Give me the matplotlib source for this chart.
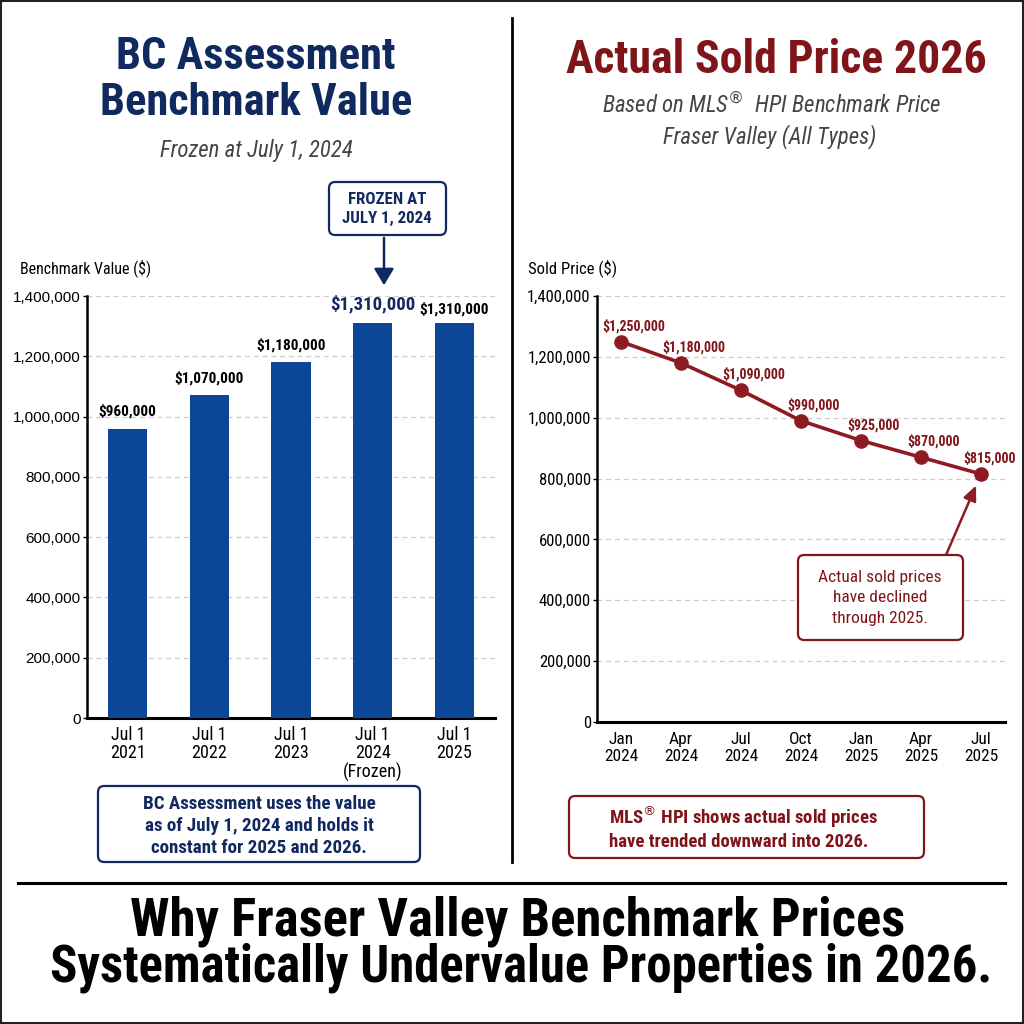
import matplotlib
matplotlib.use("Agg")
import numpy as np
import matplotlib.pyplot as plt
from matplotlib.patches import Rectangle, FancyBboxPatch, FancyArrowPatch
from matplotlib.ticker import FuncFormatter, MultipleLocator

# condensed look like the reference; falls back to plain sans if missing
plt.rcParams["font.family"] = ["Roboto Condensed", "Archivo Narrow", "Liberation Sans", "DejaVu Sans"]

NAVY = "#10295e"
BAR = "#0b4796"
RED = "#7f1519"
LINE_RED = "#8e1b22"
GRAY = "#444444"

# data
bar_dates = ["Jul 1\n2021", "Jul 1\n2022", "Jul 1\n2023", "Jul 1\n2024\n(Frozen)", "Jul 1\n2025"]
bar_values = [960000, 1070000, 1180000, 1310000, 1310000]
bar_labels = ["$960,000", "$1,070,000", "$1,180,000", "$1,310,000", "$1,310,000"]

sold_dates = ["Jan\n2024", "Apr\n2024", "Jul\n2024", "Oct\n2024", "Jan\n2025", "Apr\n2025", "Jul\n2025"]
sold_values = [1250000, 1180000, 1090000, 990000, 925000, 870000, 815000]
sold_labels = ["$1,250,000", "$1,180,000", "$1,090,000", "$990,000", "$925,000", "$870,000", "$815,000"]

W = 1024


def fx(x):
    return x / W


def fy(y):
    return 1 - y / W


def box(x0, y0, x1, y1, color):
    # rounded frame given in pixel coords (top-left origin)
    fig.add_artist(FancyBboxPatch((fx(x0), fy(y1)), (x1 - x0) / W, (y1 - y0) / W,
                                  boxstyle="round,pad=0,rounding_size=0.006",
                                  transform=fig.transFigure, fc="white", ec=color, lw=1.6))


fig = plt.figure(figsize=(10.24, 10.24), dpi=100)
fig.patch.set_facecolor("white")

# outer frame + dividers
fig.add_artist(Rectangle((0.001, 0.001), 0.998, 0.998, transform=fig.transFigure,
                         fill=False, ec="#222222", lw=1.5))
fig.add_artist(plt.Line2D([fx(512), fx(512)], [fy(18), fy(862)], color="black", lw=2))
fig.add_artist(plt.Line2D([fx(18), fx(1005)], [fy(883), fy(883)], color="black", lw=2.2))


def style_axis(ax, ysize):
    ax.set_ylim(0, 1400000)
    ax.yaxis.set_major_locator(MultipleLocator(200000))
    ax.yaxis.set_major_formatter(FuncFormatter(lambda v, p: f"{int(v):,}"))
    ax.grid(axis="y", color="#cccccc", ls=(0, (4, 3)), lw=0.9)
    ax.set_axisbelow(True)
    for s in ["top", "right"]:
        ax.spines[s].set_visible(False)
    ax.spines["left"].set_linewidth(1.8)
    ax.spines["bottom"].set_linewidth(2.2)
    ax.tick_params(axis="y", labelsize=ysize, length=3, width=1, pad=1.5)
    ax.tick_params(axis="x", length=0)


# ---- left: bar chart
ax1 = fig.add_axes([fx(87), fy(718), fx(495 - 87), (718 - 296) / W])
x1 = range(len(bar_values))
ax1.bar(x1, bar_values, width=0.48, color=BAR, zorder=3)
ax1.set_xlim(-0.5, 4.5)
ax1.set_xticks(list(x1))
ax1.set_xticklabels(bar_dates, linespacing=1.0, fontsize=13)
style_axis(ax1, 11)
# left value axis uses a plain (wider) sans like the reference
yt = np.arange(0, 1400001, 200000)
ax1.set_yticks(yt)
ax1.set_yticklabels([f"{int(v):,}" for v in yt], fontfamily="Liberation Sans", fontsize=11)
ax1.set_ylim(0, 1400000)
ax1.tick_params(axis="x", pad=6)
for i, (v, lab) in enumerate(zip(bar_values, bar_labels)):
    if i == 3:
        ax1.annotate(lab, (i, v), xytext=(0, 7), textcoords="offset points",
                     ha="center", va="bottom", fontsize=13.5, fontweight="bold", color=NAVY)
    else:
        ax1.annotate(lab, (i, v), xytext=(0, 7 if i < 4 else 5), textcoords="offset points",
                     ha="center", va="bottom", fontsize=11, fontweight="bold", color="black")

fig.text(fx(20), fy(268), "Benchmark Value ($)", fontsize=11.5, va="center", ha="left")

fig.text(fx(256), fy(57), "BC Assessment", fontsize=32, fontweight="bold", color=NAVY,
         ha="center", va="center")
fig.text(fx(256), fy(103), "Benchmark Value", fontsize=32, fontweight="bold", color=NAVY,
         ha="center", va="center")
fig.text(fx(256), fy(150), "Frozen at July 1, 2024", fontsize=16.5, style="italic", color=GRAY,
         ha="center", va="center")

# frozen callout
box(329, 182, 446, 235, NAVY)
fig.text(fx(387), fy(209), "FROZEN AT\nJULY 1, 2024", fontsize=12.2, fontweight="bold", color=NAVY,
         ha="center", va="center", linespacing=1.35)
fig.add_artist(FancyArrowPatch(
    (fx(384), fy(235)), (fx(384), fy(288)), transform=fig.transFigure,
    arrowstyle="-|>,head_length=10,head_width=6", color=NAVY, lw=1.8))

box(98, 786, 420, 862, NAVY)
fig.text(fx(259), fy(826), "BC Assessment uses the value\nas of July 1, 2024 and holds it\nconstant for 2025 and 2026.",
         fontsize=13.7, fontweight="bold", color=NAVY, ha="center", va="center", linespacing=1.32)

# ---- right: line chart
ax2 = fig.add_axes([fx(597), fy(722), fx(1005 - 597), (722 - 296) / W])
x2 = list(range(len(sold_values)))
ax2.plot(x2, sold_values, color=LINE_RED, lw=2.6, marker="o", ms=9.5, zorder=3)
ax2.set_xlim(-0.4, 6.4)
ax2.set_xticks(x2)
ax2.set_xticklabels(sold_dates, linespacing=1.2, fontsize=12.5)
style_axis(ax2, 12)
ax2.tick_params(axis="x", pad=7)
for i, (v, lab) in enumerate(zip(sold_values, sold_labels)):
    dx = 6 if i == len(sold_values) - 1 else 9
    ax2.annotate(lab, (i, v), xytext=(dx, 6), textcoords="offset points",
                 ha="center", va="bottom", fontsize=10, fontweight="bold", color=RED)

fig.text(fx(528), fy(268), "Sold Price ($)", fontsize=12, va="center", ha="left")

fig.text(fx(776), fy(60), "Actual Sold Price 2026", fontsize=33, fontweight="bold", color=RED,
         ha="center", va="center")
fig.text(fx(772), fy(105), "Based on MLS$^{®}$  HPI Benchmark Price", fontsize=16.5, style="italic",
         color=GRAY, ha="center", va="center")
fig.text(fx(770), fy(137), "Fraser Valley (All Types)", fontsize=16.5, style="italic", color=GRAY,
         ha="center", va="center")

box(798, 555, 963, 640, RED)
fig.text(fx(880), fy(598), "Actual sold prices\nhave declined\nthrough 2025.", fontsize=12.5,
         color=RED, ha="center", va="center", linespacing=1.45)
ax2.annotate("", xy=(6, sold_values[-1]), xycoords="data",
             xytext=(fx(946), fy(555)), textcoords="figure fraction", annotation_clip=False,
             arrowprops=dict(arrowstyle="-|>,head_length=0.9,head_width=0.4", color=LINE_RED, lw=1.8,
                             shrinkA=0, shrinkB=9))

box(569, 796, 924, 858, RED)
fig.text(fx(609), fy(827), "MLS$^{®}$ HPI shows actual sold prices\nhave trended downward into 2026.",
         fontsize=13.5, fontweight="bold", color=RED, ha="left", va="center", linespacing=1.22)

# ---- bottom headline
fig.text(fx(518), fy(921), "Why Fraser Valley Benchmark Prices", fontsize=38, fontweight="bold",
         color="black", ha="center", va="center")
fig.text(fx(521), fy(968), "Systematically Undervalue Properties in 2026.", fontsize=36.5,
         fontweight="bold", color="black", ha="center", va="center")

fig.savefig("out.png", dpi=100, facecolor="white")
